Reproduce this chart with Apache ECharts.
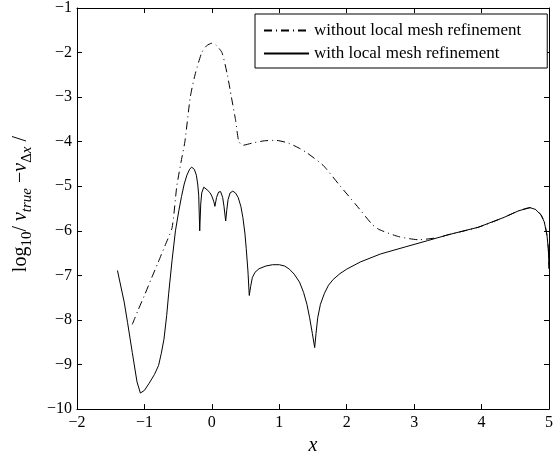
<!DOCTYPE html>
<html>
<head>
<meta charset="utf-8">
<script src="https://cdn.jsdelivr.net/npm/echarts@6/dist/echarts.min.js"></script>
<style>
html,body{margin:0;padding:0;background:#fff;}
#c{width:556px;height:461px;}
</style>
</head>
<body>
<div id="c"></div>
<script>
// Series names
var seriesNames = ['without local mesh refinement', 'with local mesh refinement'];

// Without local mesh refinement (dash-dot)
var xWithout = [-1.18, -1.10, -1.00, -0.90, -0.80, -0.70, -0.59, -0.52, -0.45, -0.40, -0.32, -0.25, -0.15, -0.08, 0.00, 0.06, 0.15, 0.23, 0.29, 0.35, 0.40, 0.46, 0.60, 0.78, 0.95, 1.11, 1.25, 1.40, 1.65, 1.89, 2.14, 2.38, 2.48, 2.77, 3.07, 3.36, 3.50, 3.95, 4.33, 4.55, 4.72, 4.80, 4.88, 4.93, 4.97, 4.99, 5.00];
var yWithout = [-8.10, -7.80, -7.45, -7.08, -6.72, -6.35, -5.93, -5.00, -4.40, -4.00, -3.00, -2.50, -2.00, -1.85, -1.79, -1.83, -2.00, -2.50, -3.00, -3.50, -4.00, -4.08, -4.03, -3.98, -3.97, -4.02, -4.11, -4.24, -4.53, -4.97, -5.42, -5.86, -5.97, -6.13, -6.20, -6.15, -6.09, -5.92, -5.70, -5.55, -5.48, -5.52, -5.64, -5.80, -6.10, -6.40, -6.85];

// With local mesh refinement (solid)
var xWith = [-1.40, -1.30, -1.25, -1.18, -1.11, -1.06, -1.00, -0.93, -0.85, -0.79, -0.75, -0.71, -0.67, -0.64, -0.59, -0.54, -0.49, -0.45, -0.41, -0.37, -0.33, -0.30, -0.26, -0.23, -0.21, -0.195, -0.18, -0.165, -0.15, -0.12, -0.10, -0.07, -0.03, 0.00, 0.03, 0.045, 0.07, 0.10, 0.13, 0.16, 0.18, 0.205, 0.22, 0.24, 0.27, 0.31, 0.35, 0.39, 0.43, 0.46, 0.49, 0.51, 0.535, 0.555, 0.575, 0.60, 0.64, 0.70, 0.80, 0.90, 1.00, 1.08, 1.15, 1.22, 1.30, 1.36, 1.41, 1.45, 1.49, 1.525, 1.545, 1.57, 1.61, 1.67, 1.73, 1.80, 1.90, 2.00, 2.20, 2.50, 2.87, 3.20, 3.50, 3.95, 4.33, 4.55, 4.72, 4.80, 4.88, 4.93, 4.97, 4.99, 5.00];
var yWith = [-6.89, -7.60, -8.06, -8.73, -9.39, -9.64, -9.58, -9.42, -9.22, -9.02, -8.75, -8.43, -7.90, -7.40, -6.66, -6.00, -5.55, -5.23, -4.95, -4.75, -4.62, -4.57, -4.62, -4.75, -4.95, -5.20, -6.00, -5.40, -5.15, -5.02, -5.01, -5.08, -5.14, -5.22, -5.35, -5.45, -5.25, -5.13, -5.12, -5.25, -5.45, -5.78, -5.55, -5.30, -5.15, -5.11, -5.15, -5.25, -5.45, -5.70, -6.05, -6.40, -6.90, -7.45, -7.25, -7.05, -6.93, -6.85, -6.79, -6.76, -6.76, -6.79, -6.86, -6.97, -7.15, -7.38, -7.65, -7.95, -8.30, -8.62, -8.30, -7.95, -7.65, -7.40, -7.22, -7.09, -6.96, -6.86, -6.70, -6.52, -6.36, -6.22, -6.09, -5.92, -5.70, -5.55, -5.48, -5.52, -5.64, -5.80, -6.10, -6.40, -6.85];

// Axis ranges / ticks
var xRange = [-2, 5];
var yRange = [-10, -1];
var tickStep = 1;

function zip(xs, ys) { return xs.map(function (x, i) { return [x, ys[i]]; }); }
function minus(v) { return String(v).replace('-', '\u2212'); }

var FONT = 'Liberation Serif';
var chart = echarts.init(document.getElementById('c'), null, {renderer: 'canvas'});

function xAx(pos, labels) {
  return {
    type: 'value', position: pos, min: xRange[0], max: xRange[1], interval: tickStep,
    axisLine: {show: true, onZero: false, lineStyle: {color: '#000', width: 1}},
    axisTick: {show: true, inside: true, length: 5, lineStyle: {color: '#000'}},
    axisLabel: {show: labels, color: '#000', fontFamily: FONT, fontSize: 16, margin: 6, formatter: minus},
    splitLine: {show: false}
  };
}
function yAx(pos, labels) {
  return {
    type: 'value', position: pos, min: yRange[0], max: yRange[1], interval: tickStep,
    axisLine: {show: true, onZero: false, lineStyle: {color: '#000', width: 1}},
    axisTick: {show: true, inside: true, length: 5, lineStyle: {color: '#000'}},
    axisLabel: {show: labels, color: '#000', fontFamily: FONT, fontSize: 16, margin: 5, formatter: minus},
    splitLine: {show: false}
  };
}

var xb = xAx('bottom', true);
xb.name = 'x';
xb.nameLocation = 'middle';
xb.nameGap = 13;
xb.nameTextStyle = {color: '#000', fontFamily: FONT, fontSize: 20, fontStyle: 'italic'};

var yl = yAx('left', true);
yl.name = '{a|log}{s|10}{a|/ }{i|v}{si|true}{a| \u2212}{i|v}{s|\u0394}{si|x}{a| /}';
yl.nameLocation = 'middle';
yl.nameGap = 42;
yl.nameTextStyle = {
  color: '#000', fontFamily: FONT, fontSize: 20,
  padding: [0, 0, 0, 9],
  rich: {
    a: {color: '#000', fontFamily: FONT, fontSize: 20},
    i: {color: '#000', fontFamily: FONT, fontSize: 20, fontStyle: 'italic'},
    s: {color: '#000', fontFamily: FONT, fontSize: 15, padding: [14, 0, 0, 0]},
    si: {color: '#000', fontFamily: FONT, fontSize: 15, fontStyle: 'italic', padding: [14, 0, 0, 0]}
  }
};

chart.setOption({
  animation: false,
  backgroundColor: '#fff',
  grid: {left: 77, right: 1, top: 7, bottom: 47, containLabel: false},
  legend: {
    orient: 'vertical', left: 255, top: 14,
    data: seriesNames,
    backgroundColor: '#fff',
    borderColor: '#000', borderWidth: 1, borderRadius: 0,
    padding: [8, 26, 6, 8],
    itemWidth: 45, itemHeight: 14, itemGap: 6,
    itemStyle: {color: 'rgba(0,0,0,0)', borderColor: 'rgba(0,0,0,0)', borderWidth: 0, opacity: 0},
    textStyle: {color: '#000', fontFamily: FONT, fontSize: 17},
    selectedMode: false
  },
  xAxis: [xb, xAx('top', false)],
  yAxis: [yl, yAx('right', false)],
  series: [
    {
      name: seriesNames[0], type: 'line', data: zip(xWithout, yWithout),
      symbol: 'none', smooth: 0.2, color: '#000',
      lineStyle: {color: '#000', width: 1, type: [8, 4, 1, 4]}
    },
    {
      name: seriesNames[1], type: 'line', data: zip(xWith, yWith),
      symbol: 'none', smooth: false, color: '#000',
      lineStyle: {color: '#000', width: 1, type: 'solid'}
    }
  ]
});
</script>
</body>
</html>
